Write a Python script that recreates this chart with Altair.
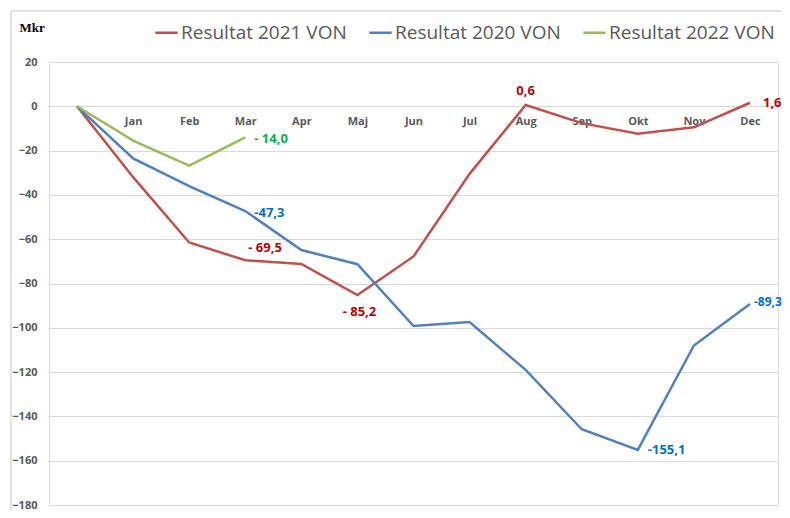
import altair as alt
import pandas as pd

months = ["", "Jan", "Feb", "Mar", "Apr", "Maj", "Jun", "Jul", "Aug", "Sep", "Okt", "Nov", "Dec"]
series_names = ["Resultat 2021 VON", "Resultat 2020 VON", "Resultat 2022 VON"]
line_colors = ["#C0504D", "#4F81BD", "#9BBB59"]
label_colors = ["#C00000", "#0070C0", "#00B050"]

r2021 = [0, -32, -61.5, -69.5, -71.2, -85.2, -67.8, -30.5, 0.6, -7.6, -12.4, -9.5, 1.6]
r2020 = [0, -23.5, -36.0, -47.3, -64.9, -71.3, -99.2, -97.4, -119.0, -145.8, -155.1, -108.0, -89.3]
r2022 = [0, -15.5, -26.8, -14.0]

# labelled points: (series index, month, value, text)
lab_series = [0, 0, 0, 0, 1, 1, 1, 2]
lab_month = ["Aug", "Dec", "Mar", "Maj", "Mar", "Okt", "Dec", "Mar"]
lab_value = [0.6, 1.6, -69.5, -85.2, -47.3, -155.1, -89.3, -14.0]
lab_text = ["0,6", "1,6", "- 69,5", "- 85,2", "-47,3", "-155,1", "-89,3", "- 14,0"]
# label styling (offsets in px, alignment, size)
lab_style = [
    dict(dx=0, dy=-14, align="center", size=13),
    dict(dx=13, dy=0, align="left", size=13),
    dict(dx=3, dy=-12, align="left", size=13),
    dict(dx=2, dy=17, align="center", size=13),
    dict(dx=9, dy=2, align="left", size=13),
    dict(dx=10, dy=0, align="left", size=13),
    dict(dx=4, dy=-2, align="left", size=12),
    dict(dx=9, dy=2, align="left", size=13),
]

rows = []
for name, vals in zip(series_names, [r2021, r2020, r2022]):
    for m, v in zip(months, vals):
        rows.append({"month": m, "value": v, "series": name})
df = pd.DataFrame(rows)

W, H = 729, 443
FONT = "Open Sans"
zero_offset = -round(H * 180 / 200)

xscale = alt.Scale(domain=months, type="point", padding=0.5)
yscale = alt.Scale(domain=[-180, 20], nice=False)

border = alt.Chart(alt.Data(values=[{}])).mark_rect(
    fill=None, stroke="#D9D9D9", strokeWidth=1.5, clip=False
).encode(
    x=alt.value(-38), x2=alt.value(800), y=alt.value(-51), y2=alt.value(520)
)

lines = alt.Chart(df).mark_line(strokeWidth=2.5).encode(
    x=alt.X("month:N", scale=xscale, sort=months,
            axis=alt.Axis(title=None, domain=False, ticks=False, grid=False,
                          offset=zero_offset, labelPadding=9, labelFont=FONT,
                          labelFontSize=11, labelColor="#595959", labelAngle=0,
                          labelFontWeight="bold")),
    y=alt.Y("value:Q", scale=yscale,
            axis=alt.Axis(values=list(range(-180, 21, 20)), domain=False, ticks=False,
                          grid=True, gridColor="#D9D9D9", gridWidth=1.2,
                          labelFont=FONT, labelFontSize=11, labelColor="#595959",
                          labelPadding=12, labelFontWeight="bold",
                          title="Mkr", titleAngle=0, titleX=-30, titleY=-35,
                          titleAlign="left", titleBaseline="middle",
                          titleFont="Liberation Serif", titleFontSize=13,
                          titleFontWeight="bold", titleColor="#000000")),
    color=alt.Color("series:N",
                    scale=alt.Scale(domain=series_names, range=line_colors),
                    legend=alt.Legend(title=None, orient="none", direction="horizontal",
                                      legendX=105, legendY=-42,
                                      symbolType="stroke", symbolSize=500,
                                      symbolStrokeWidth=2.5, labelFont=FONT,
                                      labelFontSize=19, labelColor="#595959",
                                      labelOffset=2, columnPadding=17,
                                      labelLimit=300)),
    order=alt.Order("idx:Q"),
).transform_calculate(
    idx="indexof(" + str(months).replace("'", '"') + ", datum.month)"
)

layers = [border, lines]
for s, m, v, t, st in zip(lab_series, lab_month, lab_value, lab_text, lab_style):
    d = pd.DataFrame({"month": [m], "value": [v], "text": [t]})
    layers.append(
        alt.Chart(d).mark_text(font=FONT, fontSize=st["size"], fontWeight="bold",
                               color=label_colors[s], baseline="middle",
                               align=st["align"], dx=st["dx"], dy=st["dy"]).encode(
            x=alt.X("month:N", scale=xscale, sort=months),
            y=alt.Y("value:Q", scale=yscale),
            text="text:N",
        )
    )

chart = alt.layer(*layers).properties(
    width=W, height=H,
    autosize=alt.AutoSizeParams(type="none"),
    padding={"left": 41, "top": 54, "right": 4, "bottom": 5},
).configure_view(stroke=None).configure(background="white")

chart.save("out.html", embed_options={"renderer": "svg", "actions": False})
